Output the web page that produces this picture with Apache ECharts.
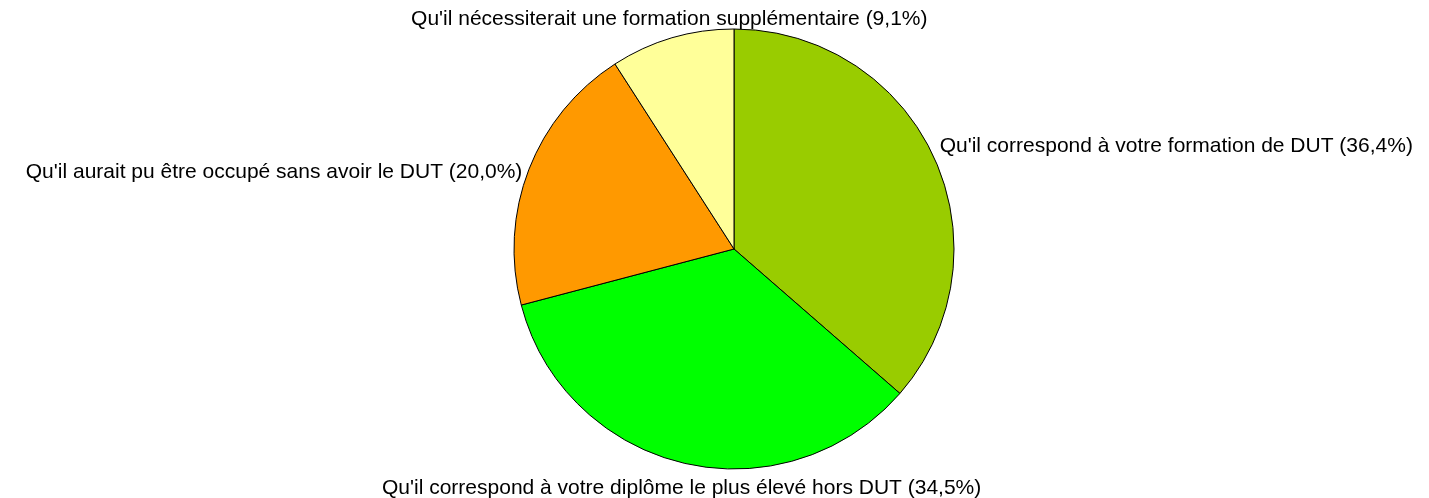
<!DOCTYPE html>
<html>
<head>
<meta charset="utf-8">
<script src="https://cdn.jsdelivr.net/npm/echarts@6/dist/echarts.min.js"></script>
<style>
  html, body { margin: 0; padding: 0; background: #fff; }
  #chart { width: 1429px; height: 498px; }
</style>
</head>
<body>
<div id="chart"></div>
<script>
// réponses (sens horaire depuis le haut)
const categories = [
  "Qu'il correspond à votre formation de DUT",
  "Qu'il correspond à votre diplôme le plus élevé hors DUT",
  "Qu'il aurait pu être occupé sans avoir le DUT",
  "Qu'il nécessiterait une formation supplémentaire"
]
const values = [36.4, 34.5, 20.0, 9.1]
const colors = ['#99CC00', '#00FF00', '#FF9900', '#FFFF99']

// placement des étiquettes façon tableur
const labelAlign = ['left', 'center', 'right', 'center']
const labelVAlign = ['bottom', 'top', 'middle', 'bottom']
const labelDx = [-5, 4, 4, 4]
const labelDy = [1, 9, 5, -2]

const chart = echarts.init(document.getElementById('chart'))
chart.setOption({
  animation: false,
  textStyle: { fontFamily: 'Liberation Sans, Arial, sans-serif' },
  series: [{
    type: 'pie',
    center: [734, 249],
    radius: 220,
    startAngle: 90,
    clockwise: true,
    avoidLabelOverlap: false,
    data: categories.map((name, i) => ({
      name: name,
      value: values[i],
      itemStyle: { color: colors[i] }
    })),
    itemStyle: { borderColor: '#000', borderWidth: 1 },
    label: {
      show: true,
      position: 'outside',
      color: '#000',
      fontSize: 21,
      formatter: p => p.name + ' (' + p.value.toFixed(1).replace('.', ',') + '%)'
    },
    labelLine: { show: false, length: 6, length2: 0 },
    labelLayout: function(params) {
      const i = params.dataIndex
      return { align: labelAlign[i], verticalAlign: labelVAlign[i], dx: labelDx[i], dy: labelDy[i] }
    },
    emphasis: { disabled: true }
  }]
})
</script>
</body>
</html>
